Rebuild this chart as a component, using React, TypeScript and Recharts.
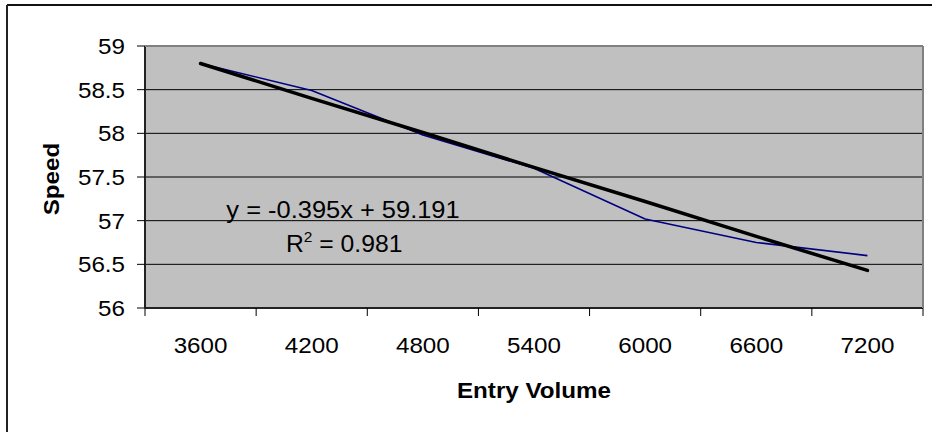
import React from 'react';
import { LineChart, Line, XAxis, YAxis, CartesianGrid } from 'recharts';

const categories = ['3600', '4200', '4800', '5400', '6000', '6600', '7200'];
const speed = [58.8, 58.49, 57.98, 57.6, 57.02, 56.75, 56.6];
const trend = [58.8, 58.4, 58.01, 57.61, 57.22, 56.82, 56.43];
const yTicks = [56, 56.5, 57, 57.5, 58, 58.5, 59];
const xTitle = 'Entry Volume';
const yTitle = 'Speed';
const equation = 'y = -0.395x + 59.191';
const rSquared = ' = 0.981';

const data = categories.map((c, i) => ({ cat: c, speed: speed[i], trend: trend[i] }));

const FONT = '"Liberation Sans", Arial, sans-serif';
const SX = 1.1;

const XTick = (props: any) => {
  const { x, y, payload, index, visibleTicksCount } = props;
  const off = payload && payload.offset != null ? payload.offset : 778 / 7 / 2;
  const last = index === (visibleTicksCount ?? categories.length) - 1;
  return (
    <g>
      <line x1={x - off} x2={x - off} y1={y - 8} y2={y} stroke="#000" strokeWidth={1} />
      {last && <line x1={x + off} x2={x + off} y1={y - 8} y2={y} stroke="#000" strokeWidth={1} />}
      <text
        transform={`translate(${x},${y + 37}) scale(${SX},1)`}
        textAnchor="middle"
        fontSize={22}
        fontFamily={FONT}
        fill="#000"
      >
        {payload.value}
      </text>
    </g>
  );
};

const YTick = (props: any) => {
  const { x, y, payload } = props;
  return (
    <text
      transform={`translate(${x},${y + 8}) scale(${SX},1)`}
      textAnchor="end"
      fontSize={22}
      fontFamily={FONT}
      fill="#000"
    >
      {payload.value}
    </text>
  );
};

export default function App() {
  return (
    <div style={{ position: 'absolute', left: 0, top: 0, width: 932, height: 432, background: '#fff' }}>
      <LineChart
        width={932}
        height={432}
        data={data}
        margin={{ top: 46, right: 9, bottom: 84, left: 60 }}
      >
        <CartesianGrid vertical={false} stroke="#000" strokeWidth={1} fill="#C0C0C0" fillOpacity={1} />
        <XAxis
          dataKey="cat"
          scale="band"
          height={40}
          tickSize={8}
          tickMargin={0}
          tickLine={false}
          axisLine={{ stroke: '#222', strokeWidth: 2 }}
          tick={<XTick />}
          interval={0}
        />
        <YAxis
          type="number"
          domain={[56, 59]}
          ticks={yTicks}
          width={85}
          tickSize={8}
          tickMargin={12}
          tickLine={{ stroke: '#000' }}
          axisLine={{ stroke: '#222', strokeWidth: 2 }}
          tick={<YTick />}
          interval={0}
        />
        <Line
          type="linear"
          dataKey="speed"
          stroke="#000080"
          strokeWidth={1.6}
          strokeLinejoin="round"
          dot={false}
          isAnimationActive={false}
        />
        <Line
          type="linear"
          dataKey="trend"
          stroke="#000"
          strokeWidth={3.5}
          strokeLinecap="round"
          dot={false}
          isAnimationActive={false}
        />
      </LineChart>
      <svg
        width={932}
        height={432}
        style={{ position: 'absolute', left: 0, top: 0, pointerEvents: 'none' }}
      >
        <line x1={7} y1={5} x2={932} y2={5} stroke="#111" strokeWidth={2} />
        <line x1={7} y1={5} x2={7} y2={432} stroke="#222" strokeWidth={2} />
        <line x1={145} y1={46} x2={923} y2={46} stroke="#808080" strokeWidth={2} />
        <line x1={923} y1={46} x2={923} y2={308} stroke="#808080" strokeWidth={2} />
        <text
          transform={`translate(59,179) rotate(-90) scale(${SX},1)`}
          textAnchor="middle"
          fontSize={22}
          fontWeight="bold"
          fontFamily={FONT}
          fill="#000"
        >
          {yTitle}
        </text>
        <text
          transform={`translate(534,398) scale(${SX},1)`}
          textAnchor="middle"
          fontSize={22}
          fontWeight="bold"
          fontFamily={FONT}
          fill="#000"
        >
          {xTitle}
        </text>
        <text
          transform={`translate(343,218) scale(1.06,1)`}
          textAnchor="middle"
          fontSize={24}
          fontFamily={FONT}
          fill="#000"
        >
          {equation}
        </text>
        <text
          transform={`translate(286,252) scale(1.03,1)`}
          textAnchor="start"
          fontSize={24}
          fontFamily={FONT}
          fill="#000"
        >
          R
          <tspan fontSize={15} dy={-10}>2</tspan>
          <tspan dy={10}>{rSquared}</tspan>
        </text>
      </svg>
    </div>
  );
}
